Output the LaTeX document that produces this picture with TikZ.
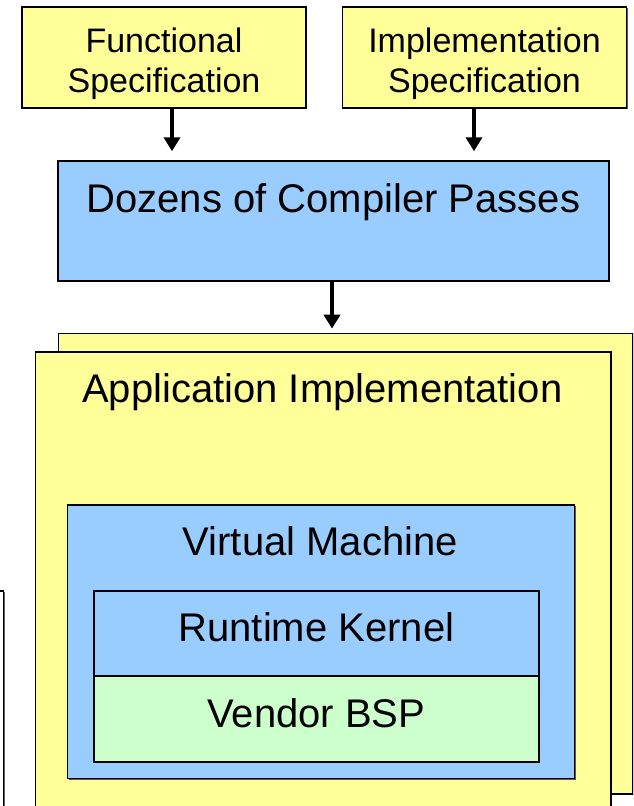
\documentclass[tikz,border=0pt]{standalone}
\usepackage{fontspec}
\setmainfont{Liberation Sans}
\usepackage{xcolor}
\usetikzlibrary{arrows.meta, positioning, shadows}
\definecolor{specyellow}{HTML}{FFFF99}
\definecolor{passblue}{HTML}{99CCFF}
\definecolor{bspgreen}{HTML}{CCFFCC}
\tikzset{
  layerbox/.style={
    draw, line width=1.5pt, rectangle, inner sep=0pt,
    drop shadow={shadow xshift=1.2pt, shadow yshift=-1.2pt, fill=black!65, opacity=1}
  },
  specbox/.style={
    layerbox, fill=specyellow, align=center,
    minimum width=284pt, minimum height=101pt, text height=77pt,
    font=\fontsize{34}{40}\selectfont
  },
  titletext/.style={anchor=base, inner sep=0pt, font=\fontsize{40}{48}\selectfont},
  flowarrow/.style={-{Triangle[length=14pt, width=16pt]}, line width=4pt},
}

\begin{document}
\begin{tikzpicture}[x=1pt, y=-1pt]
  \useasboundingbox (0,0) rectangle (633,806);
  \clip (0,0) rectangle (633,806);
  % inputs
  \node[specbox] (funcspec) at (164,57.4) {Functional\\Specification};
  \node[specbox] (implspec) at (484.5,57.4) {Implementation\\Specification};
  % compiler
  \node[layerbox, fill=passblue, minimum width=551pt, minimum height=120pt] (passes) at (333.4,221) {};
  \node[titletext] (passtitle) at (333.4,212) {Dozens of Compiler Passes};
  % stacked pages
  \node[layerbox, draw=black, fill=white, minimum width=40pt, minimum height=240pt, anchor=north east] (sidebox) at (4.3,590) {};
  \node[layerbox, fill=specyellow, minimum width=574.3pt, minimum height=460.5pt, anchor=north west] (backpage) at (57.7,332.7) {};
  \node[layerbox, fill=specyellow, minimum width=575.3pt, minimum height=480pt, anchor=north west] (apppage) at (34.7,351) {};
  \node[titletext] (apptitle) at (322.3,402) {Application Implementation};
  % virtual machine
  \node[layerbox, fill=passblue, minimum width=507pt, minimum height=273.7pt, anchor=north west] (vmbox) at (66.7,504) {};
  \node[titletext] (vmtitle) at (320.2,555) {Virtual Machine};
  \node[layerbox, fill=passblue, minimum width=444.7pt, minimum height=85.3pt, anchor=north west] (kernel) at (93.3,590) {};
  \node[layerbox, fill=bspgreen, minimum width=444.7pt, minimum height=85.7pt, anchor=north west] (bsp) at (93.3,675.3) {};
  \node[titletext] (kerneltitle) at (kernel.center |- 0,641) {Runtime Kernel};
  \node[titletext] (bsptitle) at (bsp.center |- 0,727) {Vendor BSP};
  % arrows
  \draw[flowarrow, shorten >=9pt] ([xshift=8pt]funcspec.south) -- ([xshift=8pt]funcspec.south |- passes.north);
  \draw[flowarrow, shorten >=9pt] ([xshift=-10.5pt]implspec.south) -- ([xshift=-10.5pt]implspec.south |- passes.north);
  \draw[flowarrow, shorten >=4pt] ([xshift=-1.4pt]passes.south) -- ([xshift=-1.4pt]passes.south |- backpage.north);
\end{tikzpicture}
\end{document}
